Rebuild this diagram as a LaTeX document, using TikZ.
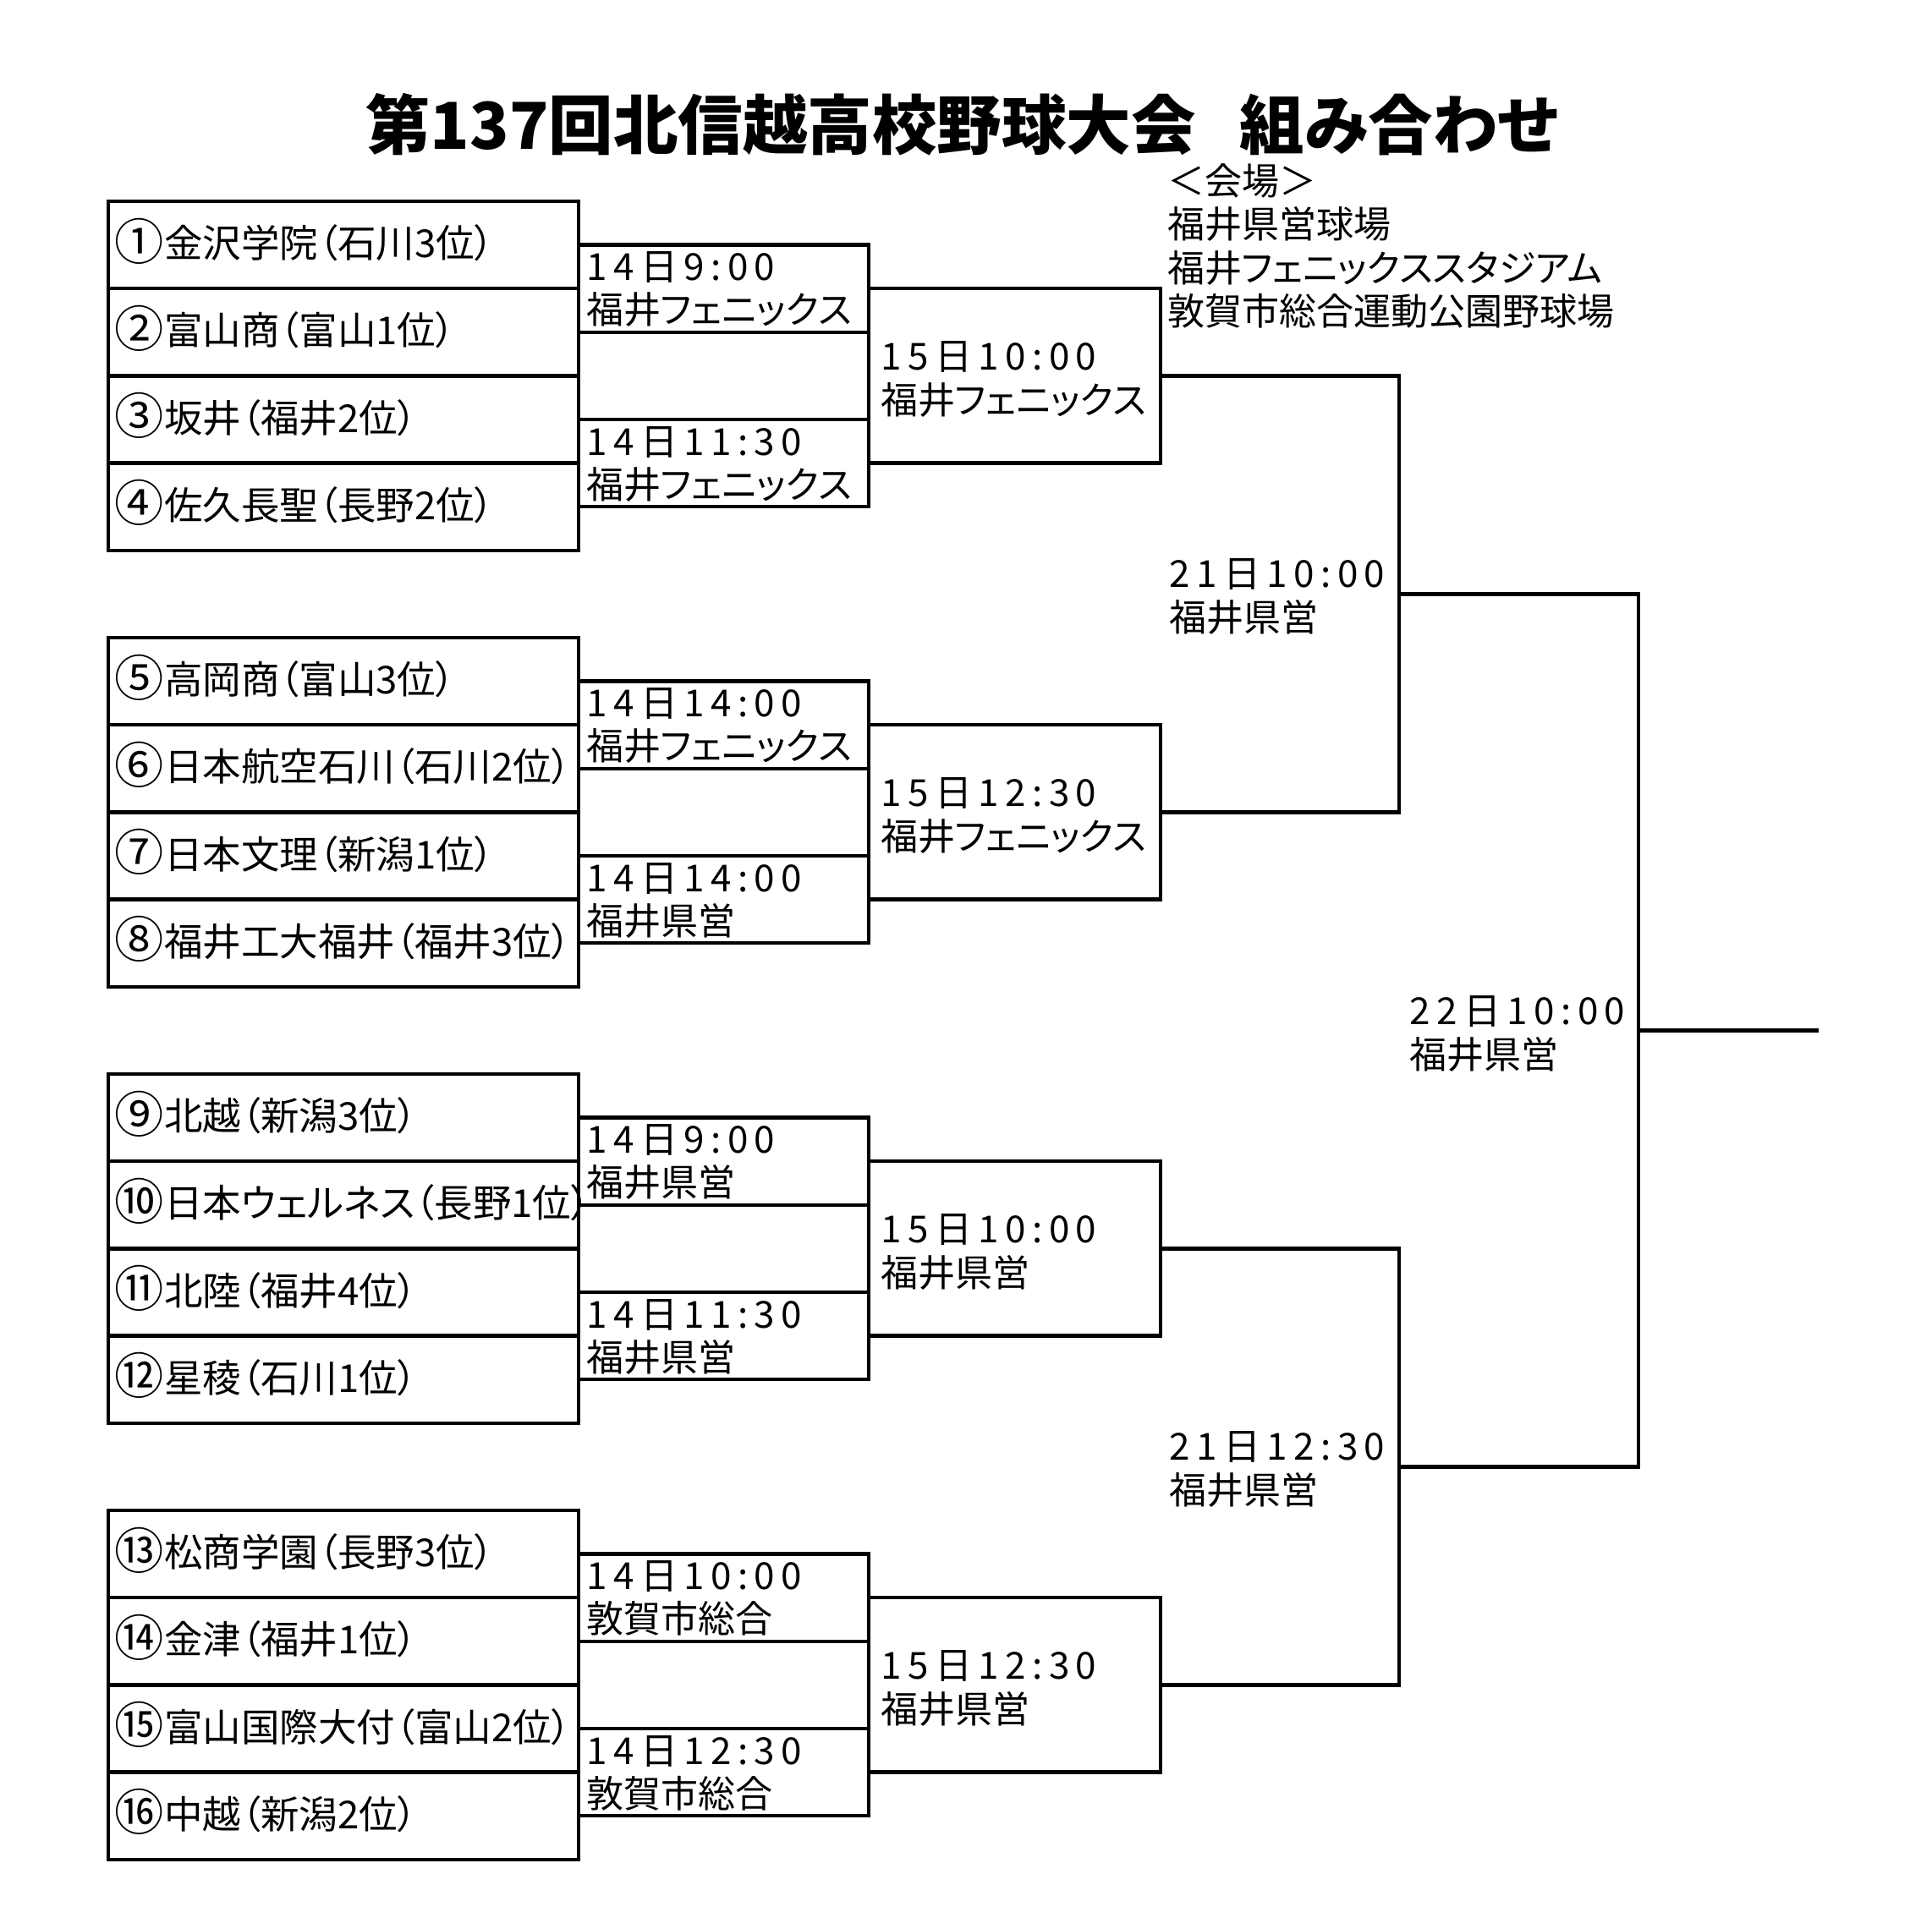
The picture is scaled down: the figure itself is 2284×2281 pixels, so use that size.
\documentclass[tikz,border=0pt]{standalone}
\usepackage{graphicx}
\usepackage{fontspec}
\setmainfont[RawFeature=+palt]{Noto Sans CJK JP}
\newfontfamily\jpfont[RawFeature=+palt]{Noto Sans CJK JP}
\newfontfamily\timefont[LetterSpace=17]{Noto Sans CJK JP}
\newcommand\circnum[1]{\raisebox{-0.06em}{\scalebox{1.28}{#1}}\kern0.02em}
\begin{document}
\begin{tikzpicture}[x=1pt,y=-1pt,
  box/.style={draw,line width=4.5pt,line join=miter},
  brk/.style={draw,line width=4.5pt,line join=miter,line cap=rect},
  team/.style={anchor=base west,inner sep=0pt,font=\jpfont\fontsize{45.5}{50}\selectfont},
  tlbl/.style={anchor=base west,inner sep=0pt,font=\timefont\fontsize{44}{50}\selectfont},
  plbl/.style={anchor=base west,inner sep=0pt,font=\jpfont\fontsize{44}{50}\selectfont},
  venue/.style={anchor=base west,inner sep=0pt,font=\jpfont\fontsize{44}{50}\selectfont}]
\useasboundingbox[fill=white] (0,0) rectangle (2284,2281);
\def\Tz{238}\def\Rh{103.2}\def\Gp{516}
% title
\node[anchor=base,inner sep=0pt,font=\jpfont\bfseries\fontsize{76.5}{80}\selectfont] (title) at (1137.5,176)
  {第137回北信越高校野球大会\hspace{52pt}組み合わせ};
% venue
\node[venue] (v0) at (1380,230) {＜会場＞};
\node[venue] (v1) at (1380,281) {福井県営球場};
\node[venue] (v2) at (1380,333) {福井フェニックススタジアム};
\node[venue] (v3) at (1380,384) {敦賀市総合運動公園野球場};
% team boxes, first round and second round boxes
\foreach \g in {0,...,3}{
  \pgfmathsetmacro\gt{\Tz+\g*\Gp}
  \draw[box] (128,\gt) rectangle (684,{\gt+4*\Rh});
  \foreach \r in {1,2,3}{
    \draw[box] (128,{\gt+\r*\Rh}) -- (684,{\gt+\r*\Rh});
  }
  \draw[box] (684,{\gt+0.5*\Rh}) rectangle (1027,{\gt+1.5*\Rh});
  \draw[box] (684,{\gt+2.5*\Rh}) rectangle (1027,{\gt+3.5*\Rh});
  \draw[box] (1027,{\gt+\Rh}) rectangle (1372,{\gt+3*\Rh});
}
% semifinal brackets
\foreach \h in {0,1}{
  \pgfmathsetmacro\st{\Tz+2*\Rh+\h*2*\Gp}
  \coordinate (sa\h) at (1372,\st);
  \coordinate (sb\h) at (1372,{\st+\Gp});
  \draw[brk] (sa\h) -| (1654,{\st+\Gp}) -- (sb\h);
}
% final bracket
\coordinate (fa) at (1654,{\Tz+2*\Rh+0.5*\Gp});
\coordinate (fb) at (1654,{\Tz+2*\Rh+2.5*\Gp});
\coordinate (fc) at (1937,{\Tz+2*\Rh+1.5*\Gp});
\coordinate (fe) at (2148,{\Tz+2*\Rh+1.5*\Gp});
\draw[brk] (fa) -| (1937,{\Tz+2*\Rh+2.5*\Gp}) -- (fb);
\draw[brk] (fc) -- (fe);
% team names
\foreach \g/\r/\cn/\nm in {
  0/0/①/金沢学院（石川3位）, 0/1/②/富山商（富山1位）, 0/2/③/坂井（福井2位）, 0/3/④/佐久長聖（長野2位）,
  1/0/⑤/高岡商（富山3位）, 1/1/⑥/日本航空石川（石川2位）, 1/2/⑦/日本文理（新潟1位）, 1/3/⑧/福井工大福井（福井3位）,
  2/0/⑨/北越（新潟3位）, 2/1/⑩/日本ウェルネス（長野1位）, 2/2/⑪/北陸（福井4位）, 2/3/⑫/星稜（石川1位）,
  3/0/⑬/松商学園（長野3位）, 3/1/⑭/金津（福井1位）, 3/2/⑮/富山国際大付（富山2位）, 3/3/⑯/中越（新潟2位）}{
  \pgfmathsetmacro\ty{\Tz+\g*\Gp+(\r+0.5)*\Rh+15}
  \node[team] (t\g\r) at (135,\ty) {\circnum{\cn}\nm};
}
% first round labels
\foreach \g/\ta/\pa/\tb/\pb in {
  0/14日9:00/福井フェニックス/14日11:30/福井フェニックス,
  1/14日14:00/福井フェニックス/14日14:00/福井県営,
  2/14日9:00/福井県営/14日11:30/福井県営,
  3/14日10:00/敦賀市総合/14日12:30/敦賀市総合}{
  \pgfmathsetmacro\ya{\Tz+\g*\Gp+0.5*\Rh}
  \pgfmathsetmacro\yb{\Tz+\g*\Gp+2.5*\Rh}
  \node[tlbl] (ma\g) at (693,{\ya+42}) {\ta};
  \node[plbl] (pa\g) at (693,{\ya+93}) {\pa};
  \node[tlbl] (mb\g) at (693,{\yb+42}) {\tb};
  \node[plbl] (pb\g) at (693,{\yb+93}) {\pb};
}
% second round labels
\foreach \g/\ta/\pa in {
  0/15日10:00/福井フェニックス, 1/15日12:30/福井フェニックス,
  2/15日10:00/福井県営, 3/15日12:30/福井県営}{
  \pgfmathsetmacro\ya{\Tz+\g*\Gp+\Rh}
  \node[tlbl] (qa\g) at (1041,{\ya+96}) {\ta};
  \node[plbl] (qp\g) at (1041,{\ya+148}) {\pa};
}
% semifinal labels
\foreach \h/\ta in {0/21日10:00, 1/21日12:30}{
  \pgfmathsetmacro\yc{\Tz+2*\Rh+(\h*2+0.5)*\Gp}
  \node[tlbl] (sl\h) at (1382,{\yc-8}) {\ta};
  \node[plbl] (sp\h) at (1382,{\yc+44}) {福井県営};
}
% final label
\node[tlbl] (fl) at (1666,{\Tz+2*\Rh+1.5*\Gp-7}) {22日10:00};
\node[plbl] (fp) at (1666,{\Tz+2*\Rh+1.5*\Gp+45}) {福井県営};
\end{tikzpicture}
\end{document}
